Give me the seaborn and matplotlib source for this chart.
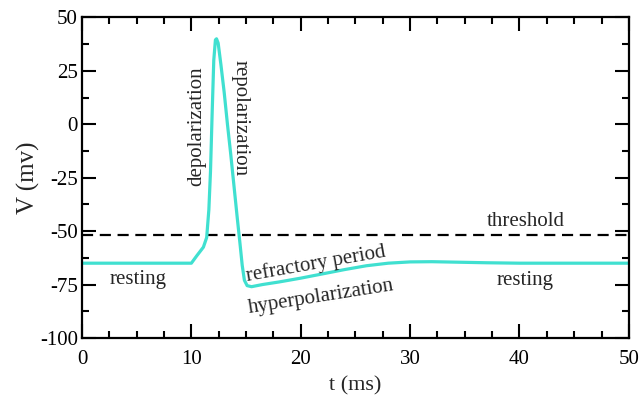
import numpy as np
import pandas as pd
import matplotlib
matplotlib.use("Agg")
import matplotlib.pyplot as plt
import seaborn as sns
from matplotlib.ticker import MultipleLocator

# data
t_ms = [0, 10, 10.5, 11.1, 11.4, 11.6, 11.75, 11.9, 12.05, 12.2, 12.3, 12.45, 12.7, 13.0,
        13.3, 13.6, 13.9, 14.2, 14.45, 14.65, 14.85, 15.1, 15.5, 16.5, 18, 20, 22, 24,
        26, 28, 30, 32, 34, 37, 40, 45, 50]
v_mv = [-65, -65, -61.5, -57.5, -53, -40, -22, 5, 30, 39.5, 40, 38, 28, 15,
        0, -14, -29, -44, -56, -66, -73, -75.5, -76, -75, -73.8, -72, -70, -68,
        -66.2, -65, -64.4, -64.3, -64.5, -64.8, -65, -65, -65]
threshold = -52
labels = [
    # text, x, y, rotation
    ("resting", 5.1, -72.8, 0),
    ("depolarization", 10.5, -1, 90),
    ("repolarization", 14.5, 3, -90),
    ("threshold", 40.6, -45.6, 0),
    ("resting", 40.5, -73.3, 0),
    ("refractory period", 21.4, -65.5, 10),
    ("hyperpolarization", 21.9, -80.8, 9),
]

sns.set_style("ticks")
plt.rcParams['font.family'] = ['Liberation Serif', 'DejaVu Serif']
plt.rcParams['axes.unicode_minus'] = False

fig = plt.figure(figsize=(6.43, 3.96), dpi=100)
ax = fig.add_axes([0.1275, 0.1465, 0.978 - 0.1275, 0.956 - 0.1465])

df = pd.DataFrame({"t": t_ms, "V": v_mv})
ax.axhline(threshold, color="black", lw=1.6, ls=(0, (5, 3)), zorder=1)
sns.lineplot(data=df, x="t", y="V", ax=ax, color="#40E0D0", lw=2.3,
             sort=False, estimator=None, zorder=2)

for txt, x, y, rot in labels:
    ax.text(x, y, txt, ha="center", va="center", rotation=rot, fontsize=15,
            rotation_mode="anchor")

ax.set_xlim(0, 50)
ax.set_ylim(-100, 50)
ax.xaxis.set_major_locator(MultipleLocator(10))
ax.xaxis.set_minor_locator(MultipleLocator(2.5))
ax.yaxis.set_major_locator(MultipleLocator(25))
ax.yaxis.set_minor_locator(MultipleLocator(12.5))
ax.tick_params(which="both", direction="in", top=True, right=True,
               labelsize=15, colors="black")
ax.tick_params(which="major", length=10, width=1.5)
ax.tick_params(which="minor", length=5, width=1.5)
ax.tick_params(axis="x", which="major", pad=9)
ax.tick_params(axis="y", which="major", pad=3)
for s in ax.spines.values():
    s.set_linewidth(1.6)
    s.set_color("black")
ax.set_xlabel("t (ms)", fontsize=16, labelpad=5)
ax.set_ylabel("V (mv)", fontsize=18, labelpad=0)

fig.savefig("out.png", dpi=100)
